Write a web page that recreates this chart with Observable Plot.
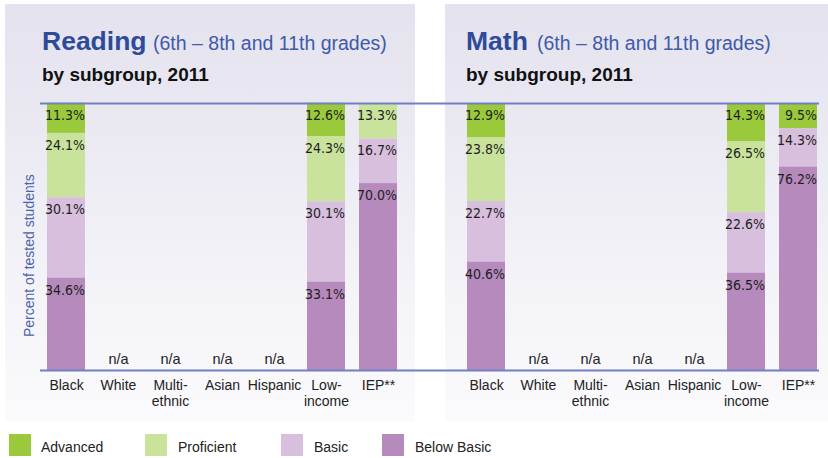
<!DOCTYPE html>
<html><head><meta charset="utf-8">
<script src="https://cdn.jsdelivr.net/npm/d3@7"></script>
<script src="https://cdn.jsdelivr.net/npm/@observablehq/plot@0.6"></script>
<style>
body{margin:0;background:#fff;}
#page{position:relative;width:828px;height:458px;overflow:hidden;font-family:"Liberation Sans",Arial,sans-serif;}
.panel{position:absolute;top:4px;height:418px;background:linear-gradient(#e3e2ee,#fbfbfd);}
.t{position:absolute;line-height:0;white-space:nowrap;}
.plot{position:absolute;top:90px;}
.sw{position:absolute;width:22px;height:22px;top:434px;}
</style></head><body><div id="page"></div>
<script>
// ---- data ----
const categories = ["Black", "White", "Multi-\nethnic", "Asian", "Hispanic", "Low-\nincome", "IEP**"];
const levels = ["Advanced", "Proficient", "Basic", "Below Basic"];
const levelColors = ["#9aca3c", "#cae39c", "#d7bfdd", "#b68abd"];
const stackOrder = ["Below Basic", "Basic", "Proficient", "Advanced"];

const readingAdvanced   = [11.3, null, null, null, null, 12.6, null];
const readingProficient = [24.1, null, null, null, null, 24.3, 13.3];
const readingBasic      = [30.1, null, null, null, null, 30.1, 16.7];
const readingBelowBasic = [34.6, null, null, null, null, 33.1, 70.0];

const mathAdvanced      = [12.9, null, null, null, null, 14.3, 9.5];
const mathProficient    = [23.8, null, null, null, null, 26.5, null];
const mathBasic         = [22.7, null, null, null, null, 22.6, 14.3];
const mathBelowBasic    = [40.6, null, null, null, null, 36.5, 76.2];

const subjects = [
  {title: "Reading", sub: "(6th – 8th and 11th grades)", by: "by subgroup, 2011",
   series: [readingAdvanced, readingProficient, readingBasic, readingBelowBasic]},
  {title: "Math", sub: "(6th – 8th and 11th grades)", by: "by subgroup, 2011",
   series: [mathAdvanced, mathProficient, mathBasic, mathBelowBasic]}
];
const yLabel = "Percent of tested students";
const naText = "n/a";

// ---- layout ----
const page = document.getElementById("page");
function el(cls, css, text) {
  const d = document.createElement("div");
  d.className = cls;
  Object.assign(d.style, css);
  if (text != null) d.textContent = text;
  page.appendChild(d);
  return d;
}
function textAt(text, x, baseline, size, css) {
  return el("t", Object.assign({left: x + "px", top: (baseline - 0.3465 * size) + "px", fontSize: size + "px"}, css), text);
}

el("panel", {left: "5px", width: "410px"});
el("panel", {left: "445px", width: "383px"});

const lineColor = "#7080c2";
const labelFont = "'Liberation Sans Narrow','DejaVu Sans Condensed','Liberation Sans',sans-serif";

const panels = [
  {left: 0, width: 420, marginLeft: 39, marginRight: 16, titleX: 42, subX: 153, ruleInsetL: 1, ruleInsetR: -16},
  {left: 420, width: 408, marginLeft: 39, marginRight: 4, titleX: 466, subX: 537, ruleInsetL: -39, ruleInsetR: 5}
];

subjects.forEach((s, k) => {
  const p = panels[k];
  textAt(s.title, p.titleX, 50, 26.5, {fontWeight: "bold", color: "#2e4b9b"});
  textAt(s.sub, p.subX, 50, 19.5, {color: "#3e5aa8"});
  textAt(s.by, p.titleX, 82, 19, {fontWeight: "bold", color: "#111"});

  const rows = [];
  categories.forEach((c, i) => levels.forEach((lv, j) => {
    const v = s.series[j][i];
    if (v != null) rows.push({group: c, level: lv, value: v});
  }));
  const naRows = categories.filter((c, i) => s.series.every(a => a[i] == null)).map(c => ({group: c}));

  const marks = [
    Plot.barY(rows, Plot.stackY({x: "group", y: "value", fill: "level", order: stackOrder})),
    Plot.text(rows, Plot.stackY2({x: "group", y: "value", z: "level", order: stackOrder,
      text: d => d.value.toFixed(1) + "%", dy: 12, dx: 18.5, textAnchor: "end",
      fontSize: 14, fill: "#1e1e1e", fontFamily: labelFont})),
    Plot.text(naRows, {x: "group", y: () => 0, text: () => naText, dy: -11, fontSize: 14.5, fill: "#222"}),
    Plot.axisX({tickSize: 0, tickPadding: 8, lineHeight: 1.15, fontSize: 14, fill: "#222", label: null}),
    Plot.ruleY([0, 100], {stroke: lineColor, strokeWidth: 2, insetLeft: p.ruleInsetL, insetRight: p.ruleInsetR})
  ];
  if (k === 0) {
    marks.push(Plot.text([yLabel], {frameAnchor: "left", y: () => 43, text: d => d, rotate: -90, dx: -10,
      textAnchor: "middle", fill: "#4b63ad", fontSize: 14}));
  }

  const chart = Plot.plot({
    width: p.width, height: 325,
    marginTop: 13, marginBottom: 45, marginLeft: p.marginLeft, marginRight: p.marginRight,
    style: {background: "transparent", fontSize: "14px", fontFamily: "'Liberation Sans',Arial,sans-serif", color: "#222"},
    x: {domain: categories, paddingInner: 0.27, paddingOuter: 0.135, label: null},
    y: {domain: [0, 100], axis: null},
    color: {domain: levels, range: levelColors},
    marks
  });
  chart.classList.add("plot");
  chart.style.position = "absolute";
  chart.style.left = p.left + "px";
  chart.style.top = "90px";
  page.appendChild(chart);
});

// ---- legend ----
const legendSw = [9, 145, 281, 382];
const legendTx = [41, 178, 314, 415];
levels.forEach((lv, i) => {
  el("sw", {left: legendSw[i] + "px", background: levelColors[i]});
  textAt(lv, legendTx[i], 452, 14, {color: "#222"});
});
</script>
</body></html>
